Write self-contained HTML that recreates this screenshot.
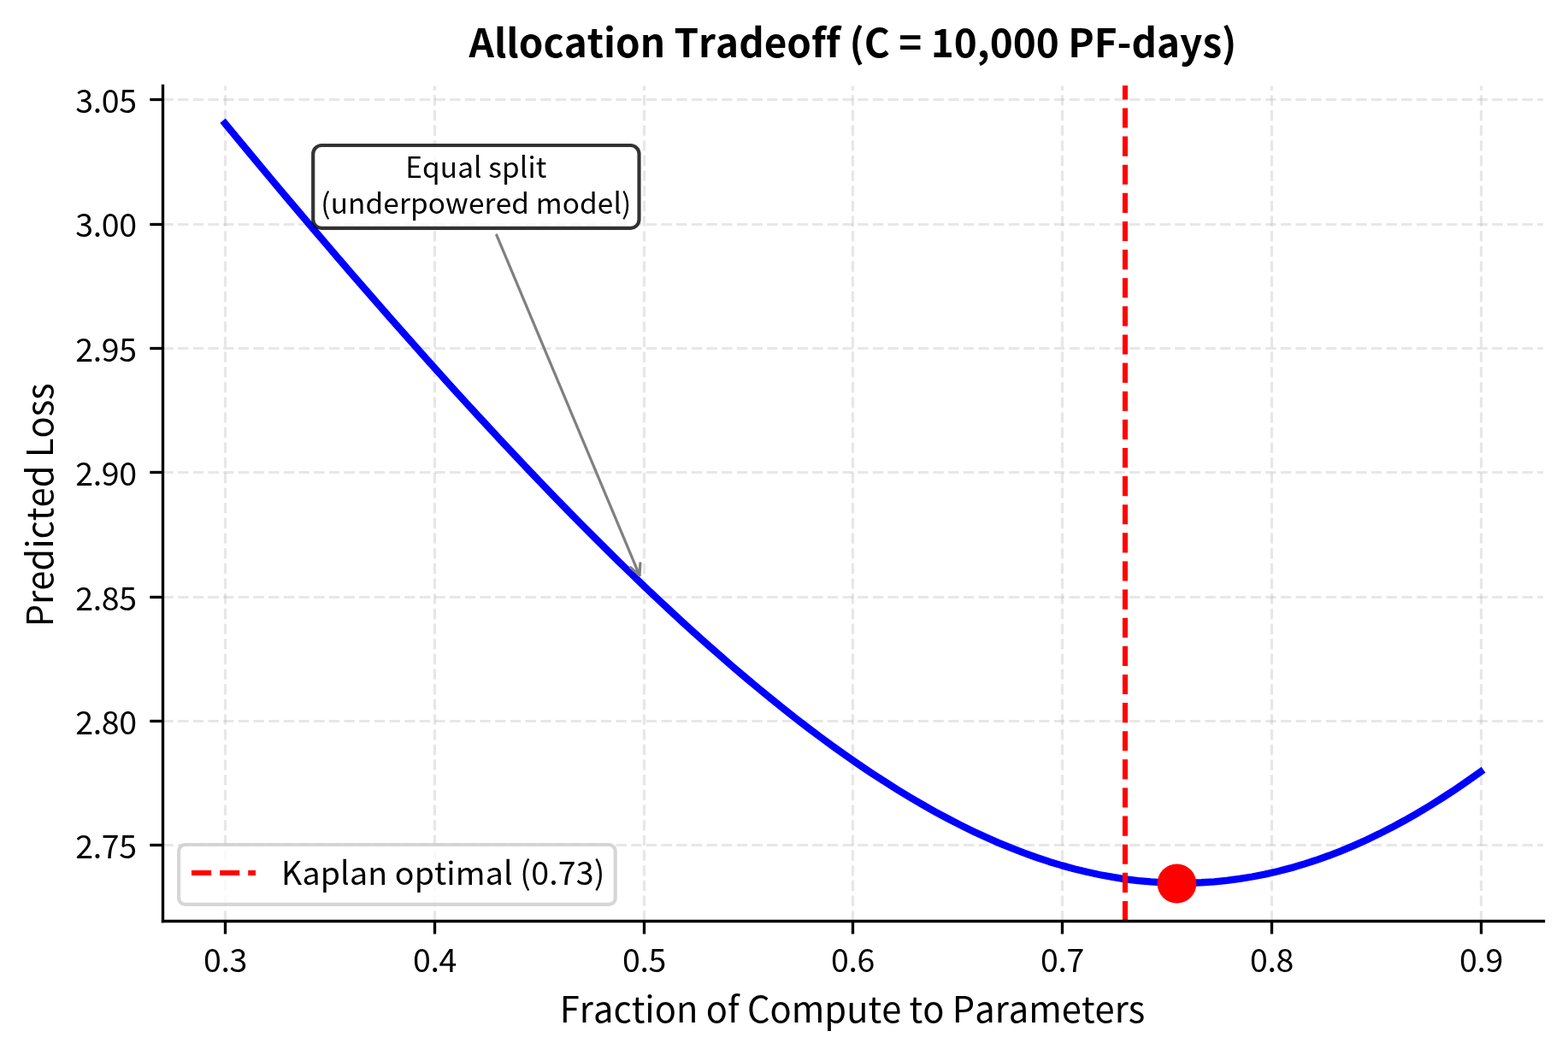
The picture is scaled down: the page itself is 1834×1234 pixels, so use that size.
<!DOCTYPE html>
<html lang="en"><head><meta charset="utf-8"><title>Allocation Tradeoff</title>
<style>
html,body{margin:0;padding:0;background:#fff;}
body{width:1834px;height:1234px;overflow:hidden;}
svg{display:block;}
text{font-family:"Noto Sans CJK JP","Noto Sans CJK SC","Liberation Sans",sans-serif;fill:#000;font-kerning:none;font-variant-ligatures:none;font-feature-settings:"kern" 0,"liga" 0,"clig" 0;}
.tick{font-size:37.5px;}
.lab{font-size:41.67px;}
.title{font-size:45.83px;font-weight:bold;}
.ann{font-size:33.33px;letter-spacing:0.14px;}
</style></head><body>
<svg width="1834" height="1234" viewBox="0 0 1834 1234">
<rect x="0" y="0" width="1834" height="1234" fill="#ffffff"/>
<g stroke="#b0b0b0" stroke-opacity="0.3" stroke-width="3.2" stroke-dasharray="12.3333 5.3333" fill="none">
<path d="M263.50 1077.5 L263.50 100.5"/>
<path d="M508.50 1077.5 L508.50 100.5"/>
<path d="M753.50 1077.5 L753.50 100.5"/>
<path d="M997.50 1077.5 L997.50 100.5"/>
<path d="M1242.50 1077.5 L1242.50 100.5"/>
<path d="M1487.50 1077.5 L1487.50 100.5"/>
<path d="M1732.50 1077.5 L1732.50 100.5"/>
<path d="M190.5 988.50 L1805 988.50"/>
<path d="M190.5 843.50 L1805 843.50"/>
<path d="M190.5 698.50 L1805 698.50"/>
<path d="M190.5 552.50 L1805 552.50"/>
<path d="M190.5 407.50 L1805 407.50"/>
<path d="M190.5 262.50 L1805 262.50"/>
<path d="M190.5 116.50 L1805 116.50"/>
</g>
<polyline points="263.20,144.42 278.03,162.38 292.87,180.26 307.70,198.07 322.53,215.80 337.37,233.45 352.20,251.02 367.03,268.50 381.87,285.90 396.70,303.21 411.53,320.43 426.37,337.56 441.20,354.60 456.03,371.53 470.87,388.37 485.70,405.11 500.53,421.74 515.37,438.26 530.20,454.67 545.03,470.96 559.87,487.14 574.70,503.20 589.53,519.13 604.37,534.93 619.20,550.60 634.03,566.13 648.87,581.52 663.70,596.76 678.53,611.86 693.37,626.80 708.20,641.57 723.03,656.19 737.87,670.63 752.70,684.90 767.53,698.99 782.37,712.89 797.20,726.59 812.03,740.10 826.87,753.40 841.70,766.49 856.53,779.36 871.37,792.01 886.20,804.42 901.03,816.59 915.87,828.52 930.70,840.19 945.53,851.60 960.37,862.74 975.20,873.60 990.03,884.18 1004.87,894.46 1019.70,904.44 1034.53,914.11 1049.37,923.47 1064.20,932.49 1079.03,941.18 1093.87,949.53 1108.70,957.53 1123.53,965.17 1138.37,972.44 1153.20,979.33 1168.03,985.84 1182.87,991.96 1197.70,997.68 1212.53,1003.00 1227.37,1007.90 1242.20,1012.38 1257.03,1016.43 1271.87,1020.05 1286.70,1023.24 1301.53,1025.97 1316.37,1028.26 1331.20,1030.09 1346.03,1031.46 1360.87,1032.37 1375.70,1032.81 1390.53,1032.78 1405.37,1032.27 1420.20,1031.30 1435.03,1029.84 1449.87,1027.91 1464.70,1025.50 1479.53,1022.61 1494.37,1019.25 1509.20,1015.40 1524.03,1011.09 1538.87,1006.30 1553.70,1001.03 1568.53,995.31 1583.37,989.11 1598.20,982.46 1613.03,975.35 1627.87,967.79 1642.70,959.78 1657.53,951.33 1672.37,942.45 1687.20,933.13 1702.03,923.40 1716.87,913.25 1731.70,902.69" fill="none" stroke="#0000ff" stroke-width="8.33" stroke-linecap="square" stroke-linejoin="round"/>
<path d="M1316.00 1077 L1316.00 100" stroke="#ff0000" stroke-width="6.1" stroke-dasharray="23.125 10" fill="none"/>
<path d="M190.5 100.5 L190.5 1077.5" stroke="#000" stroke-width="3.33" stroke-linecap="square" fill="none"/>
<path d="M190.5 1077.5 L1805.5 1077.5" stroke="#000" stroke-width="3.33" stroke-linecap="square" fill="none"/>
<g stroke="#000" stroke-width="3.33" fill="none">
<path d="M263.50 1077.5 L263.50 1092.50"/>
<path d="M508.50 1077.5 L508.50 1092.50"/>
<path d="M753.50 1077.5 L753.50 1092.50"/>
<path d="M997.50 1077.5 L997.50 1092.50"/>
<path d="M1242.50 1077.5 L1242.50 1092.50"/>
<path d="M1487.50 1077.5 L1487.50 1092.50"/>
<path d="M1732.50 1077.5 L1732.50 1092.50"/>
<path d="M190.5 988.50 L175.30 988.50"/>
<path d="M190.5 843.50 L175.30 843.50"/>
<path d="M190.5 698.50 L175.30 698.50"/>
<path d="M190.5 552.50 L175.30 552.50"/>
<path d="M190.5 407.50 L175.30 407.50"/>
<path d="M190.5 262.50 L175.30 262.50"/>
<path d="M190.5 116.50 L175.30 116.50"/>
</g>
<text class="tick" x="263.50" y="1136.8" text-anchor="middle" letter-spacing="-0.3">0.3</text>
<text class="tick" x="508.50" y="1136.8" text-anchor="middle" letter-spacing="-0.3">0.4</text>
<text class="tick" x="753.50" y="1136.8" text-anchor="middle" letter-spacing="-0.3">0.5</text>
<text class="tick" x="997.50" y="1136.8" text-anchor="middle" letter-spacing="-0.3">0.6</text>
<text class="tick" x="1242.50" y="1136.8" text-anchor="middle" letter-spacing="-0.3">0.7</text>
<text class="tick" x="1487.50" y="1136.8" text-anchor="middle" letter-spacing="-0.3">0.8</text>
<text class="tick" x="1732.50" y="1136.8" text-anchor="middle" letter-spacing="-0.3">0.9</text>
<text class="tick" x="159.9" y="1004.20" text-anchor="end" letter-spacing="-0.3">2.75</text>
<text class="tick" x="159.9" y="858.85" text-anchor="end" letter-spacing="-0.3">2.80</text>
<text class="tick" x="159.9" y="713.50" text-anchor="end" letter-spacing="-0.3">2.85</text>
<text class="tick" x="159.9" y="568.15" text-anchor="end" letter-spacing="-0.3">2.90</text>
<text class="tick" x="159.9" y="422.80" text-anchor="end" letter-spacing="-0.3">2.95</text>
<text class="tick" x="159.9" y="277.45" text-anchor="end" letter-spacing="-0.3">3.00</text>
<text class="tick" x="159.9" y="132.10" text-anchor="end" letter-spacing="-0.3">3.05</text>
<text class="lab" x="997.10" y="1196.0" text-anchor="middle">Fraction of Compute to Parameters</text>
<text class="lab" transform="translate(62.0 590.80) rotate(-90)" text-anchor="middle">Predicted Loss</text>
<text class="title" x="997.50" y="67.4" text-anchor="middle">Allocation Tradeoff (C = 10,000 PF-days)</text>
<circle cx="1376.5" cy="1033.5" r="22.9" fill="#ff0000"/>
<rect x="366.2" y="170.0" width="381.30" height="96.80" rx="10" ry="10" fill="#ffffff" fill-opacity="0.8" stroke="#000000" stroke-opacity="0.8" stroke-width="4.17"/>
<text class="ann" x="556.85" y="208.0" text-anchor="middle">Equal split</text>
<text class="ann" x="556.85" y="249.6" text-anchor="middle">(underpowered model)</text>
<path d="M580.80 274.90 L748.00 672.80" stroke="#808080" stroke-width="3.2" fill="none" stroke-linecap="round"/>
<path d="M748.92 658.93 L748.00 672.80 L737.45 663.75" stroke="#808080" stroke-width="3.2" fill="none" stroke-linecap="round" stroke-linejoin="round"/>
<rect x="209.1" y="988.0" width="510.60" height="69.90" rx="7.5" ry="7.5" fill="#ffffff" fill-opacity="0.8" stroke="#cccccc" stroke-opacity="0.8" stroke-width="4.17"/>
<path d="M224.0 1021 L299.0 1021" stroke="#ff0000" stroke-width="6" stroke-dasharray="23.125 10" fill="none"/>
<text class="tick" x="329.0" y="1035" text-anchor="start" letter-spacing="0.16">Kaplan optimal (0.73)</text>
</svg></body></html>
